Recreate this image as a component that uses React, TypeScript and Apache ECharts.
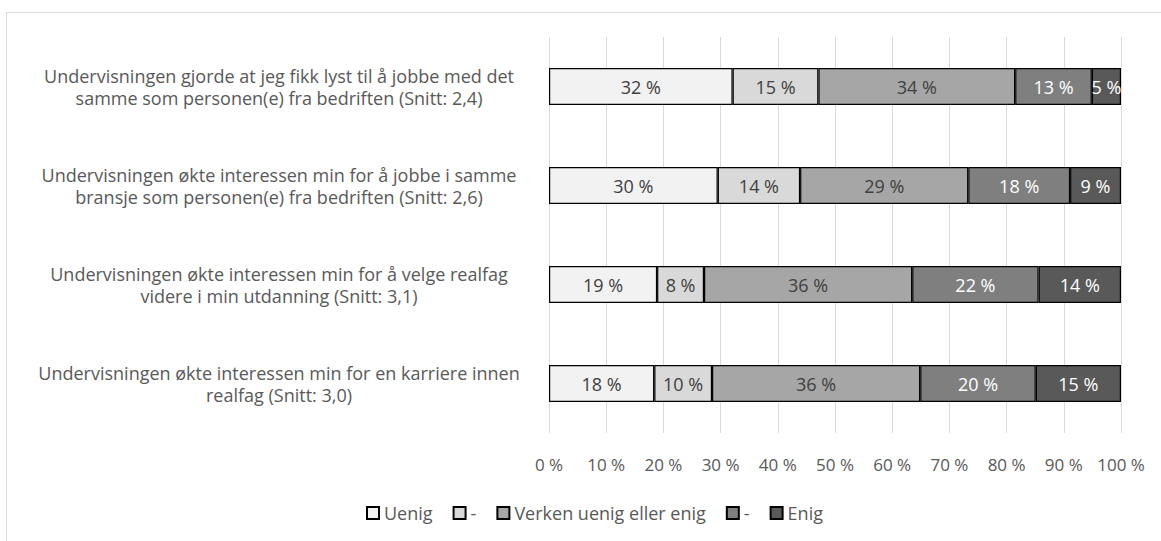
import React, { useEffect, useRef } from "react";
import * as echarts from "echarts";

const categories = [
  "Undervisningen gjorde at jeg fikk lyst til å jobbe med det\nsamme som personen(e) fra bedriften (Snitt: 2,4)",
  "Undervisningen økte interessen min for å jobbe i samme\nbransje som personen(e) fra bedriften (Snitt: 2,6)",
  "Undervisningen økte interessen min for å velge realfag\nvidere i min utdanning (Snitt: 3,1)",
  "Undervisningen økte interessen min for en karriere innen\nrealfag (Snitt: 3,0)",
];

const seriesNames = ["Uenig", "-", "Verken uenig eller enig", "-\u200b", "Enig"];
const uenig = [32.1, 29.5, 18.9, 18.4];
const dash1 = [15.0, 14.4, 8.2, 10.1];
const verken = [34.4, 29.4, 36.4, 36.4];
const dash2 = [13.4, 17.8, 22.1, 20.2];
const enig = [5.1, 8.9, 14.4, 14.9];
const seriesValues = [uenig, dash1, verken, dash2, enig];
const tickLabels = ["0 %", "10 %", "20 %", "30 %", "40 %", "50 %", "60 %", "70 %", "80 %", "90 %", "100 %"];

const colors = ["#f2f2f2", "#d9d9d9", "#a6a6a6", "#7f7f7f", "#595959"];
const labelColors = ["#404040", "#404040", "#404040", "#ffffff", "#ffffff"];
const FONT = "Open Sans";
const FS = 18;

export default function App() {
  const ref = useRef<HTMLDivElement>(null);
  useEffect(() => {
    document.body.style.margin = "0";
    const chart = echarts.init(ref.current!, null, { renderer: "svg" });
    chart.setOption({
      animation: false,
      backgroundColor: "#ffffff",
      textStyle: { fontFamily: FONT },
      graphic: [
        {
          type: "rect",
          shape: { x: 6.5, y: 12.5, width: 1200, height: 600 },
          style: { fill: "none", stroke: "#d9d9d9", lineWidth: 1 },
          silent: true,
          z: -10,
        },
      ],
      grid: { left: 549, right: 40, top: 37, height: 396, containLabel: false },
      xAxis: {
        type: "value",
        min: 0,
        max: 100,
        interval: 10,
        axisLine: { show: false },
        axisTick: { show: false },
        splitLine: { show: true, lineStyle: { color: "#d9d9d9", width: 1 } },
        axisLabel: {
          margin: 23,
          color: "#595959",
          fontSize: 17,
          fontFamily: FONT,
          formatter: (v: number) => tickLabels[Math.round(v / 10)],
        },
      },
      yAxis: {
        type: "category",
        data: categories,
        inverse: true,
        axisLine: { show: false },
        axisTick: { show: false },
        axisLabel: {
          margin: 270,
          align: "center",
          color: "#595959",
          fontSize: 18,
          lineHeight: 22,
          fontFamily: FONT,
        },
      },
      legend: {
        bottom: 14,
        left: 361,
        itemWidth: 12,
        itemHeight: 12,
        itemGap: 20,
        icon: "rect",
        textStyle: { color: "#595959", fontSize: FS, fontFamily: FONT },
        data: seriesNames,
      },
      series: seriesValues.map((vals, i) => ({
        name: seriesNames[i],
        type: "bar",
        stack: "total",
        barWidth: 37,
        data: vals,
        itemStyle: { color: colors[i], borderColor: "#000000", borderWidth: 1.2 },
        label: {
          show: true,
          position: "inside",
          color: labelColors[i],
          fontSize: FS,
          fontFamily: FONT,
          formatter: (p: any) => Math.round(p.value) + " %",
        },
      })),
    });
    return () => chart.dispose();
  }, []);
  return <div ref={ref} style={{ width: 1161, height: 541 }} />;
}
